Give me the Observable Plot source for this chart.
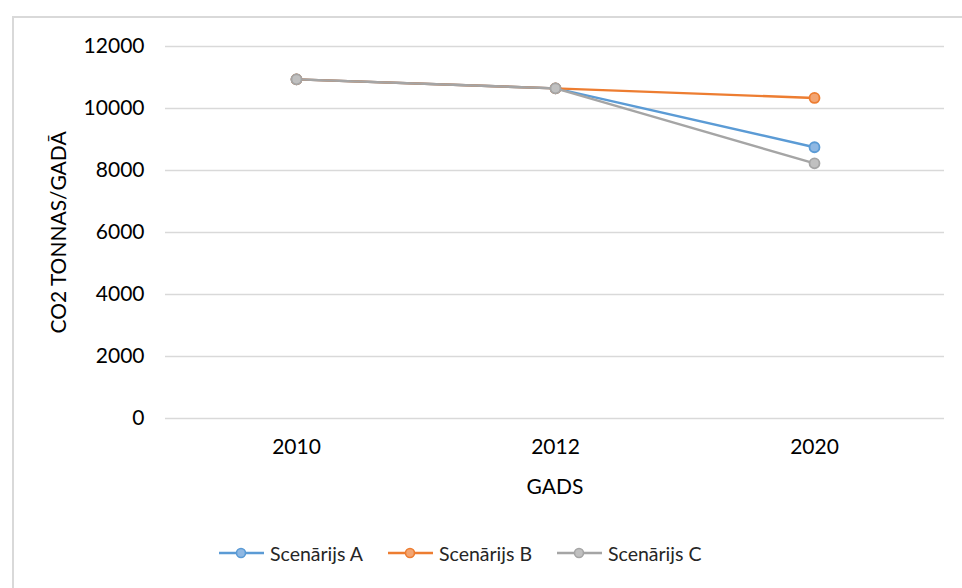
<!DOCTYPE html>
<html>
<head>
<meta charset="utf-8">
<script src="https://cdn.jsdelivr.net/npm/d3@7"></script>
<script src="https://cdn.jsdelivr.net/npm/@observablehq/plot@0.6"></script>
<style>
  html, body { margin: 0; padding: 0; background: #fff; }
  body { width: 962px; height: 588px; overflow: hidden; position: relative; font-family: Lato, "Open Sans", sans-serif; color: #404040; }
  #frame { position: absolute; left: 12px; top: 16px; width: 980px; height: 620px; border: 2px solid #d9d9d9; box-sizing: border-box; pointer-events: none; }
  #chart { position: absolute; left: 0; top: 0; }
  #legend { position: absolute; left: 0; top: 539px; width: 962px; height: 28px; }
  .item { position: absolute; top: 0; height: 28px; display: flex; align-items: center; font-size: 19.5px; color: #262626; }
  .item svg { margin-right: 6px; }
</style>
</head>
<body>
<div id="frame"></div>
<div id="chart"></div>
<div id="legend"></div>
<script>
const years = ["2010", "2012", "2020"];
const series = ["Scenārijs A", "Scenārijs B", "Scenārijs C"];
const valuesA = [10940, 10650, 8750];
const valuesB = [10940, 10650, 10340];
const valuesC = [10940, 10650, 8230];
const yTicks = [0, 2000, 4000, 6000, 8000, 10000, 12000];
const strokeColors = ["#5b9bd5", "#ed7d31", "#a5a5a5"];
const fillColors = ["#8fb8e3", "#f3a572", "#c0c0c0"];
const yLabel = "CO2 TONNAS/GADĀ";
const xLabel = "GADS";

const allValues = [valuesA, valuesB, valuesC];
const data = [];
series.forEach((s, i) => years.forEach((y, j) => data.push({series: s, year: y, value: allValues[i][j]})));

const fontFamily = "Lato, 'Open Sans', sans-serif";
const fs = 21;

const marks = [
  Plot.gridY(yTicks, {stroke: "#d9d9d9", strokeOpacity: 1, strokeWidth: 1.3}),
  Plot.axisY(yTicks, {tickSize: 0, tickPadding: 21, tickFormat: d => String(d), fontSize: fs, fill: "#000", label: null}),
  Plot.axisX({tickSize: 0, tickPadding: 21, fontSize: fs, fill: "#000", label: null}),
  Plot.text([xLabel], {frameAnchor: "bottom", dy: 69, fontSize: fs, fill: "#000", lineAnchor: "middle", textAnchor: "middle"}),
  Plot.text([yLabel], {frameAnchor: "left", dx: -106, rotate: -90, fontSize: fs, fill: "#000", lineAnchor: "middle", textAnchor: "middle"})
];
series.forEach((s, i) => {
  const d = data.filter(r => r.series === s);
  marks.push(Plot.line(d, {x: "year", y: "value", stroke: strokeColors[i], strokeWidth: 2.4}));
  marks.push(Plot.dot(d, {x: "year", y: "value", r: 5, fill: fillColors[i], stroke: strokeColors[i], strokeWidth: 1.8}));
});

const plot = Plot.plot({
  width: 962,
  height: 510,
  marginLeft: 165,
  marginRight: 18,
  marginTop: 46,
  marginBottom: 92,
  style: {background: "transparent", fontFamily: fontFamily, fontSize: fs + "px", color: "#000"},
  x: {type: "point", domain: years, padding: 0.5},
  y: {domain: [0, 12000]},
  marks
});
document.getElementById("chart").appendChild(plot);

const legendLefts = [219, 388, 557];
const legend = document.getElementById("legend");
series.forEach((s, i) => {
  const div = document.createElement("div");
  div.className = "item";
  div.style.left = legendLefts[i] + "px";
  div.innerHTML = `<svg width="45" height="28"><line x1="0" x2="45" y1="14" y2="14" stroke="${strokeColors[i]}" stroke-width="2.4"/><circle cx="22" cy="14" r="4.5" fill="${fillColors[i]}" stroke="${strokeColors[i]}" stroke-width="1.6"/></svg><span>${s}</span>`;
  legend.appendChild(div);
});
</script>
</body>
</html>
